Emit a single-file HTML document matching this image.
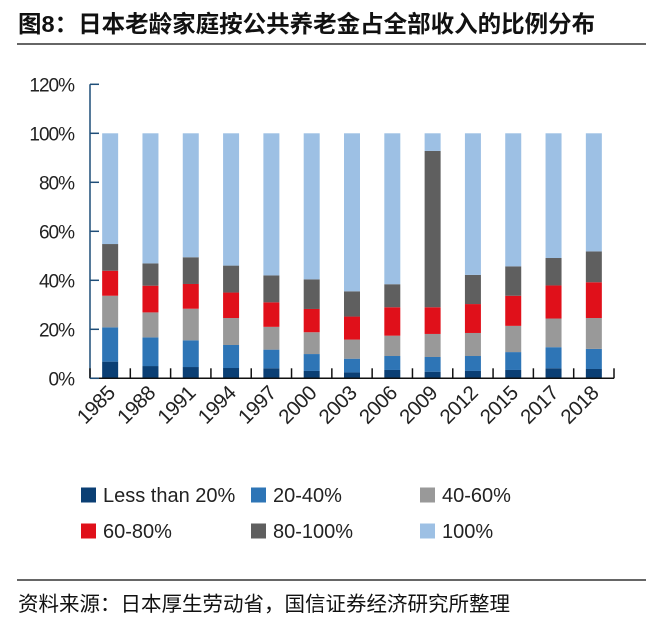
<!DOCTYPE html>
<html><head><meta charset="utf-8"><style>
body{margin:0;background:#fff;width:663px;height:626px;overflow:hidden;font-family:"Liberation Sans","Noto Sans CJK SC",sans-serif;}
</style></head><body>
<svg width="663" height="626" xmlns="http://www.w3.org/2000/svg">
<text x="18" y="32" font-size="23.5" font-weight="bold" fill="#111" font-family="Liberation Sans, Noto Sans CJK SC, sans-serif">图8：日本老龄家庭按公共养老金占全部收入的比例分布</text>
<line x1="17" y1="44" x2="646" y2="44" stroke="#333" stroke-width="1.5"/>
<g id="plot"></g>
<g id="legend"></g>
<line x1="17" y1="580" x2="646" y2="580" stroke="#333" stroke-width="1.5"/>
<text x="18" y="611" font-size="20.5" fill="#111" font-family="Liberation Sans, Noto Sans CJK SC, sans-serif">资料来源：日本厚生劳动省，国信证券经济研究所整理</text>
</svg>
<script>
const categories=["1985","1988","1991","1994","1997","2000","2003","2006","2009","2012","2015","2017","2018"];
const seriesNames=["Less than 20%","20-40%","40-60%","60-80%","80-100%","100%"];
const lt20=[6.8,5.0,4.6,4.2,4.1,3.0,2.4,3.4,2.7,3.0,3.4,4.1,3.8];
const s20_40=[14.0,11.7,10.9,9.4,7.6,6.9,5.6,5.7,6.0,6.1,7.3,8.6,8.2];
const s40_60=[12.9,10.2,12.9,11.0,9.3,8.9,7.8,8.3,9.4,9.4,10.7,11.7,12.6];
const s60_80=[10.2,10.9,10.1,10.4,10.0,9.5,9.4,11.6,10.9,11.8,12.3,13.5,14.6];
const s80_100=[10.9,9.1,10.9,11.0,11.0,12.1,10.3,9.4,63.8,11.9,12.0,11.2,12.6];
const s100=[45.2,53.1,50.6,54.0,58.0,59.6,64.5,61.6,7.2,57.8,54.3,50.9,48.2];
const yTicks=["0%","20%","40%","60%","80%","100%","120%"];
const colors=["#0b3f74","#2e75b6","#999999","#e0101a","#5f5f5f","#9dc0e4"];
const NS="http://www.w3.org/2000/svg";
const X0=90,X1=614,Y0=378.3,PPU=2.45;
const slot=(X1-X0)/categories.length;
const xC=i=>X0+slot*(i+0.5);
const yS=v=>Y0-v*PPU;
const plot=document.getElementById('plot');
function mk(t,a,p){const e=document.createElementNS(NS,t);for(const k in a)e.setAttribute(k,a[k]);(p||plot).appendChild(e);return e;}
const series=[lt20,s20_40,s40_60,s60_80,s80_100,s100];
categories.forEach((c,i)=>{
  let cum=0;
  series.forEach((s,j)=>{
    const r=mk('rect',{x:xC(i)-8,y:yS(cum+s[i]),width:16,height:s[i]*PPU,fill:colors[j]});
    
    
    cum+=s[i];
  });
  const t=mk('text',{x:0,y:0,'font-size':20.5,fill:'#222','text-anchor':'end','letter-spacing':'-0.5',transform:`translate(${xC(i)+6},${Y0+16}) rotate(-45)`});
  t.textContent=c;
  
  
});
const ya=mk('line',{x1:X0,y1:yS(120),x2:X0,y2:Y0,stroke:'#1f4e79','stroke-width':1.5});


const xa=mk('line',{x1:X0,y1:Y0,x2:X1,y2:Y0,stroke:'#111','stroke-width':1.5});


for(let i=0;i<=categories.length;i++){
  const tk=mk('line',{x1:X0+slot*i,y1:Y0,x2:X0+slot*i,y2:Y0-10,stroke:'#111','stroke-width':1.5});
  
  
}
yTicks.forEach((l,i)=>{
  const v=parseFloat(l);
  const tk=mk('line',{x1:X0,y1:yS(v),x2:X0+9,y2:yS(v),stroke:'#1f4e79','stroke-width':1.5});
  
  
  const t=mk('text',{x:74,y:yS(v)+7,'font-size':19,fill:'#222','text-anchor':'end','letter-spacing':'-1'});
  t.textContent=l;
  
  
});
const lg=document.getElementById('legend');
const lx=[81,251,420],ly=[495,531];
seriesNames.forEach((n,i)=>{
  const x=lx[i%3],y=ly[Math.floor(i/3)];
  const g=mk('g',{},lg);
  
  
  mk('rect',{x:x,y:y-7.5,width:15,height:15,fill:colors[i]},g);
  const t=mk('text',{x:x+22,y:y+7,'font-size':20,fill:'#222'},g);
  t.textContent=n;
});
</script>
</body></html>
